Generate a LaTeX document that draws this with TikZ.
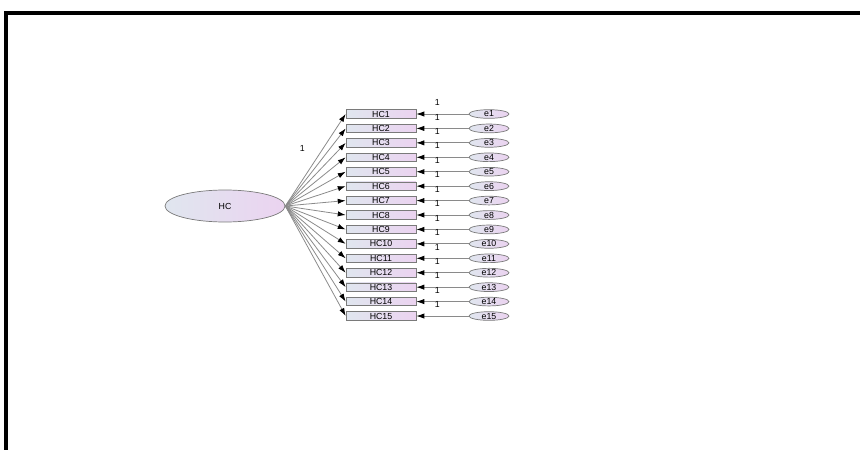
\documentclass[tikz,border=0pt]{standalone}
\usepackage{fontspec}
\setmainfont{Liberation Sans}
\usepackage{tikz}
\usetikzlibrary{positioning, arrows.meta, shapes.geometric}

\definecolor{boxleft}{HTML}{E0E6EF}
\definecolor{boxright}{HTML}{EBD3F0}
\definecolor{pathgray}{HTML}{8A8A8A}
\definecolor{edgegray}{HTML}{7A7A7A}

\begin{document}
\begin{tikzpicture}[
    x=0.02cm, y=-0.02cm,
    latent/.style={
        ellipse,
        draw=edgegray,
        left color=boxleft,
        right color=boxright,
        minimum width=2.4cm,
        minimum height=0.64cm,
        inner sep=0pt,
        font=\fontsize{5}{6}\selectfont
    },
    itembox/.style={
        rectangle,
        draw=edgegray,
        left color=boxleft,
        right color=boxright,
        minimum width=1.4cm,
        minimum height=0.17cm,
        inner sep=0pt,
        font=\fontsize{5}{6}\selectfont
    },
    errnode/.style={
        ellipse,
        draw=edgegray,
        left color=boxleft,
        right color=boxright,
        minimum width=0.8cm,
        minimum height=0.16cm,
        inner sep=0pt,
        font=\fontsize{5}{6}\selectfont
    },
    pathline/.style={-{Latex[length=4.5pt,width=3pt,black]}, draw=pathgray, line width=0.45pt},
    weight/.style={font=\fontsize{5}{6}\selectfont, inner sep=1pt}
]

\useasboundingbox (0,0) rectangle (860,450);

% outer frame
\draw[line width=2.3pt] (6,450) -- (6,13) -- (860,13);

\node[latent] (HC) at (225,206) {HC};

\foreach \i in {1,...,15} {
    \pgfmathsetmacro{\ypos}{114+(\i-1)*14.43}
    \node[itembox] (HC\i) at (381,\ypos) {HC\i};
    \node[errnode] (e\i) at (489,\ypos) {e\i};
    \draw[pathline] (e\i.west) -- node[weight, pos=0.6, above=3.5pt] {1} (HC\i.east);
    \draw[pathline] (HC.east) -- (HC\i.west);
}

\path (HC.east) -- node[weight, pos=0.62, left=9pt] {1} (HC1.west);

\end{tikzpicture}
\end{document}
